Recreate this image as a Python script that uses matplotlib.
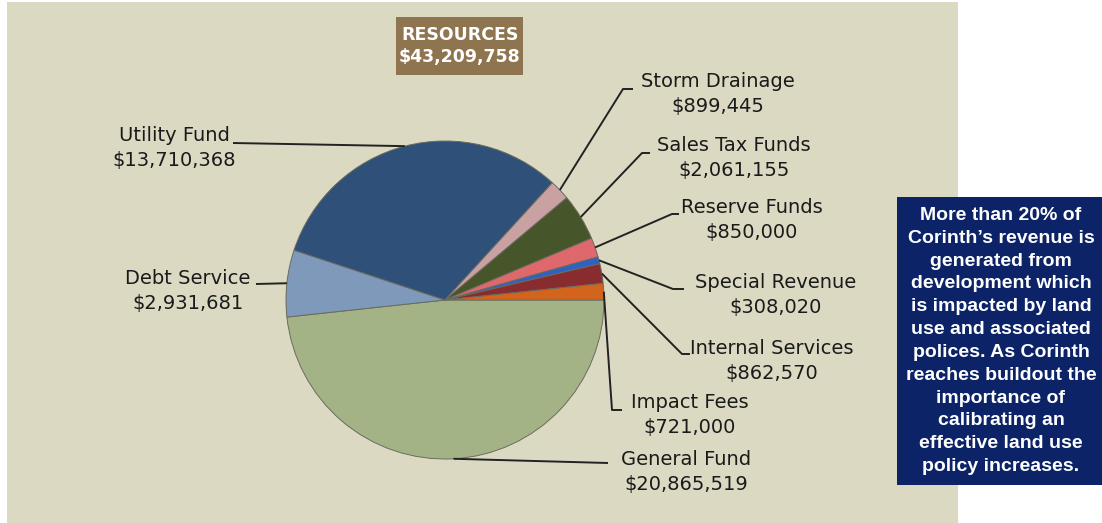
import matplotlib
matplotlib.use("Agg")
import matplotlib.pyplot as plt
from matplotlib.patches import Rectangle
import numpy as np

# fund resources, clockwise from 3 o'clock
funds = ["General Fund", "Debt Service", "Utility Fund", "Storm Drainage",
         "Sales Tax Funds", "Reserve Funds", "Special Revenue",
         "Internal Services", "Impact Fees"]
amounts = [20865519, 2931681, 13710368, 899445, 2061155, 850000, 308020,
           862570, 721000]
colors = ["#a3b386", "#7f99ba", "#2e5079", "#c9a1a3", "#47552a",
          "#df686c", "#2d62c0", "#892c30", "#d2641d"]

total = sum(amounts)
note = ("More than 20% of\nCorinth\u2019s revenue is\ngenerated from\n"
        "development which\nis impacted by land\nuse and associated\n"
        "polices. As Corinth\nreaches buildout the\nimportance of\n"
        "calibrating an\neffective land use\npolicy increases.")

W, H = 1102, 523
fig = plt.figure(figsize=(W / 100, H / 100), dpi=100)
fig.patch.set_facecolor("white")
ax = fig.add_axes([0, 0, 1, 1])


def px(x, y):
    # pixel position (y from top) to axes data
    return x, H - y


# beige panel
ax.add_patch(Rectangle(px(7, 523), 951, 521, facecolor="#dcd9c3",
                       edgecolor="none", zorder=0))

cx, cy = px(445, 300)
r = 159
wedges, _ = ax.pie(amounts, colors=colors, startangle=0, counterclock=False,
                   center=(cx, cy), radius=r, frame=True,
                   wedgeprops=dict(edgecolor="#6b6b5e", linewidth=0.7))
ax.set_xlim(0, W)
ax.set_ylim(0, H)
ax.set_aspect("equal")
ax.axis("off")

# label text centre and leader-line path (pixels) for each fund
label_pos = [(686, 472), (188, 291), (174, 148), (718, 94), (734, 158),
             (752, 220), (776, 295), (772, 361), (690, 415)]
leader_path = [[(608, 463)], [(256, 284)], [(233, 143)],
               [(623, 89), (633, 89)], [(642, 153), (650, 153)],
               [(672, 214), (679, 214)], [(673, 289), (684, 289)],
               [(682, 354), (690, 354)], [(612, 410), (622, 410)]]

for w, name, amt, (tx, ty), path in zip(wedges, funds, amounts,
                                        label_pos, leader_path):
    mid = np.deg2rad((w.theta1 + w.theta2) / 2)
    xs = [cx + r * np.cos(mid)] + [p[0] for p in path]
    ys = [cy + r * np.sin(mid)] + [H - p[1] for p in path]
    ax.plot(xs, ys, color="#222222", lw=1.4, solid_capstyle="butt", zorder=3)
    ax.text(*px(tx, ty), f"{name}\n${amt:,}", ha="center", va="center",
            fontsize=14, family="DejaVu Sans", color="#1a1a1a",
            linespacing=1.35, zorder=4)

# total box
ax.add_patch(Rectangle(px(396, 75), 127, 58, facecolor="#8f7450",
                       edgecolor="none", zorder=2))
ax.text(*px(460, 46), f"RESOURCES\n${total:,}", ha="center", va="center",
        fontsize=12.5, fontweight="bold", family="DejaVu Sans", color="white",
        linespacing=1.3, zorder=4)

# side note
ax.add_patch(Rectangle(px(897, 485), 205, 288, facecolor="#0c2467",
                       edgecolor="none", zorder=2))
ax.text(*px(1001, 341), note, ha="center", va="center", fontsize=14,
        fontweight="bold", family="Liberation Sans", color="white",
        linespacing=1.45, zorder=4)

fig.savefig("out.png", dpi=100, facecolor=fig.get_facecolor())
